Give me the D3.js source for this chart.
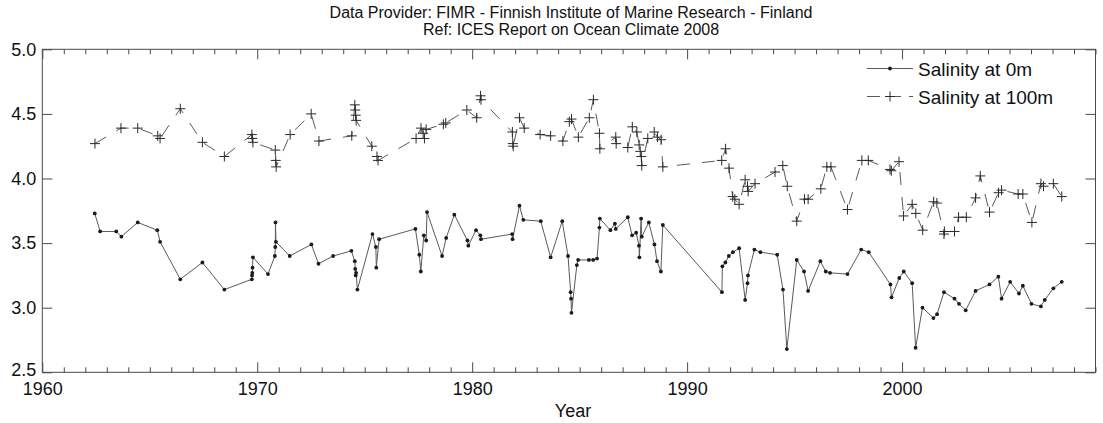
<!DOCTYPE html>
<html>
<head>
<meta charset="utf-8">
<script src="https://cdn.jsdelivr.net/npm/d3@7/dist/d3.min.js"></script>
<style>
  html, body { margin: 0; padding: 0; background: #fff; }
  svg text { font-family: "Liberation Sans", Arial, sans-serif; fill: #111; }
</style>
</head>
<body>
<svg id="chart" width="1103" height="423"></svg>
<script>
// Salinity time series, decimal year -> salinity
const years0m = [1962.44,1962.69,1963.44,1963.68,1964.44,1965.35,1965.48,1966.42,1967.45,1968.47,
  1969.75,1969.76,1969.77,1969.78,1969.80,1970.50,1970.82,1970.84,1970.85,1970.87,1971.51,1972.52,1972.85,
  1973.53,1974.38,1974.54,1974.56,1974.58,1974.60,1974.66,1975.36,1975.52,1975.54,1975.67,1977.36,1977.54,
  1977.61,1977.75,1977.86,1977.90,1978.60,1978.79,1979.17,1979.78,1979.82,1980.18,1980.38,1980.41,1981.86,
  1981.88,1982.20,1982.38,1983.19,1983.65,1984.19,1984.46,1984.58,1984.60,1984.62,1984.87,1984.93,1985.43,
  1985.63,1985.81,1985.92,1985.94,1986.43,1986.64,1986.68,1987.24,1987.44,1987.63,1987.76,1987.78,1987.86,
  1987.89,1988.22,1988.48,1988.60,1988.78,1988.87,1991.62,1991.64,1991.78,1991.94,1992.13,1992.42,1992.70,
  1992.81,1992.83,1993.13,1993.41,1994.19,1994.46,1994.64,1995.10,1995.44,1995.63,1996.20,1996.45,1996.65,
  1997.46,1998.10,1998.45,1999.46,1999.51,1999.87,2000.08,2000.47,2000.63,2000.95,2001.46,2001.63,2001.95,
  2002.44,2002.65,2002.96,2003.42,2004.07,2004.48,2004.63,2005.03,2005.44,2005.62,2006.02,2006.46,2006.64,
  2007.04,2007.43];
const salinity0m = [3.73,3.59,3.59,3.55,3.66,3.60,3.51,3.22,3.35,3.14,
  3.22,3.25,3.27,3.31,3.39,3.26,3.40,3.47,3.66,3.51,3.40,3.49,3.34,
  3.40,3.44,3.36,3.30,3.25,3.27,3.14,3.57,3.47,3.31,3.53,3.61,3.41,
  3.28,3.56,3.52,3.74,3.40,3.54,3.72,3.52,3.48,3.60,3.56,3.53,3.57,
  3.53,3.79,3.68,3.67,3.39,3.67,3.40,3.12,3.07,2.96,3.33,3.37,3.37,
  3.37,3.38,3.62,3.69,3.60,3.65,3.61,3.70,3.56,3.58,3.48,3.39,3.69,
  3.55,3.66,3.49,3.36,3.28,3.64,3.12,3.32,3.35,3.40,3.43,3.46,3.06,
  3.19,3.25,3.45,3.43,3.41,3.14,2.68,3.37,3.28,3.13,3.36,3.28,3.27,
  3.26,3.45,3.43,3.18,3.08,3.23,3.28,3.19,2.69,3.00,2.92,2.95,3.12,
  3.07,3.03,2.98,3.13,3.18,3.24,3.07,3.20,3.11,3.17,3.03,3.01,3.06,
  3.15,3.20];

const years100m = [1962.45,1963.66,1964.44,1965.37,1965.48,1966.42,1967.45,1968.47,1969.75,1969.77,
  1969.80,1970.84,1970.86,1970.88,1971.53,1972.51,1972.87,1974.40,1974.54,1974.56,1974.58,1974.60,1975.33,
  1975.57,1975.62,1977.39,1977.62,1977.72,1977.78,1977.86,1978.66,1978.77,1979.75,1980.21,1980.39,1980.41,
  1981.87,1981.89,1981.91,1982.20,1982.42,1983.16,1983.65,1984.22,1984.52,1984.62,1984.94,1985.45,1985.64,
  1985.92,1985.94,1986.68,1986.70,1987.24,1987.45,1987.66,1987.77,1987.82,1987.87,1987.89,1988.17,1988.47,
  1988.62,1988.79,1988.87,1991.61,1991.79,1991.95,1992.12,1992.22,1992.42,1992.70,1992.81,1992.84,1993.16,
  1994.09,1994.45,1994.66,1995.10,1995.46,1995.63,1996.22,1996.50,1996.69,1997.46,1998.13,1998.43,1999.44,
  1999.50,1999.86,2000.07,2000.47,2000.64,2000.96,2001.47,2001.62,2001.95,2001.97,2002.44,2002.63,2002.99,
  2003.42,2003.64,2004.07,2004.49,2004.63,2005.40,2005.62,2006.04,2006.46,2006.58,2007.04,2007.43];
const salinity100m = [4.27,4.39,4.39,4.33,4.31,4.54,4.28,4.17,4.34,4.31,
  4.28,4.22,4.14,4.09,4.34,4.50,4.29,4.33,4.57,4.53,4.49,4.45,4.25,
  4.17,4.14,4.31,4.39,4.35,4.31,4.38,4.42,4.43,4.53,4.47,4.64,4.61,
  4.36,4.27,4.25,4.47,4.39,4.34,4.33,4.29,4.44,4.46,4.32,4.47,4.61,
  4.35,4.23,4.32,4.27,4.24,4.40,4.36,4.26,4.21,4.17,4.10,4.31,4.36,
  4.32,4.30,4.09,4.14,4.23,4.08,3.86,3.84,3.80,3.99,3.94,3.90,3.96,
  4.05,4.10,3.94,3.67,3.84,3.84,3.92,4.09,4.09,3.76,4.14,4.14,4.07,
  4.06,4.13,3.71,3.80,3.73,3.60,3.82,3.81,3.57,3.59,3.59,3.70,3.70,
  3.85,4.02,3.74,3.89,3.91,3.88,3.88,3.66,3.96,3.94,3.96,3.86];

const yearTicks = [1960, 1970, 1980, 1990, 2000];
const salinityTicks = [2.5, 3.0, 3.5, 4.0, 4.5, 5.0];
const titleLines = ["Data Provider: FIMR - Finnish Institute of Marine Research - Finland",
                    "Ref: ICES Report on Ocean Climate 2008"];
const seriesNames = ["Salinity at 0m", "Salinity at 100m"];

const svg = d3.select("#chart");
const plotLeft = 42.3, plotRight = 1095.5, plotTop = 49.3, plotBottom = 372.3;

const x = d3.scaleLinear().domain([1960, 2009]).range([plotLeft, plotRight]);
const y = d3.scaleLinear().domain([2.5, 5.0]).range([plotBottom, plotTop]);

const lineColor = "#5a5a5a";
const markColor = "#1a1a1a";
const axisColor = "#4a4a4a";

// Titles
svg.selectAll("text.title").data(titleLines).join("text")
  .attr("class", "title")
  .attr("x", 571).attr("y", (d, i) => 18 + i * 17)
  .attr("text-anchor", "middle")
  .style("font-size", "16px")
  .text(d => d);

const minorYears = d3.range(1960, 2010).filter(v => v % 10 !== 0);

function styleAxis(g) {
  g.select(".domain").remove();
  g.selectAll("line").attr("stroke", axisColor);
}

// bottom axis: decade labels + inward ticks
svg.append("g").attr("transform", `translate(0,${plotBottom})`)
  .call(d3.axisBottom(x).tickValues(yearTicks).tickSize(-10).tickPadding(10).tickFormat(d3.format("d")))
  .call(styleAxis)
  .call(g => g.selectAll("text").style("font-size", "18px").attr("fill", "#111"));
svg.append("g").attr("transform", `translate(0,${plotBottom})`)
  .call(d3.axisBottom(x).tickValues(minorYears).tickSize(-5).tickFormat(""))
  .call(styleAxis);
// top axis ticks
svg.append("g").attr("transform", `translate(0,${plotTop})`)
  .call(d3.axisTop(x).tickValues(yearTicks).tickSize(-10).tickFormat(""))
  .call(styleAxis);
svg.append("g").attr("transform", `translate(0,${plotTop})`)
  .call(d3.axisTop(x).tickValues(minorYears).tickSize(-5).tickFormat(""))
  .call(styleAxis);
// left axis
svg.append("g").attr("transform", `translate(${plotLeft},0)`)
  .call(d3.axisLeft(y).tickValues(salinityTicks).tickSize(-10).tickPadding(6).tickFormat(d3.format(".1f")))
  .call(styleAxis)
  .call(g => g.selectAll("text").style("font-size", "18px").attr("fill", "#111"))
  .call(g => g.selectAll(".tick").filter(d => d === 2.5).select("text").attr("dy", "0.2em"));
// right axis ticks
svg.append("g").attr("transform", `translate(${plotRight},0)`)
  .call(d3.axisRight(y).tickValues(salinityTicks).tickSize(-10).tickFormat(""))
  .call(styleAxis);

// frame
svg.append("rect")
  .attr("x", plotLeft).attr("y", plotTop)
  .attr("width", plotRight - plotLeft).attr("height", plotBottom - plotTop)
  .attr("fill", "none").attr("stroke", axisColor).attr("stroke-width", 1);

// axis title
svg.append("text").attr("x", 573).attr("y", 417)
  .attr("text-anchor", "middle").style("font-size", "18px").text("Year");

const line = d3.line().x(d => x(d[0])).y(d => y(d[1]));
const data0 = years0m.map((t, i) => [t, salinity0m[i]]);
const data100 = years100m.map((t, i) => [t, salinity100m[i]]);

// 100 m series: dashed line with plus markers
svg.append("path").datum(data100)
  .attr("d", line).attr("fill", "none")
  .attr("stroke", lineColor).attr("stroke-width", 1)
  .attr("stroke-dasharray", "13,12");
const plus = "M-5,0H5M0,-5V5";
svg.append("g").selectAll("path").data(data100).join("path")
  .attr("transform", d => `translate(${x(d[0])},${y(d[1])})`)
  .attr("d", plus).attr("stroke", "#2a2a2a").attr("stroke-width", 1).attr("fill", "none");

// 0 m series: solid line with dot markers
svg.append("path").datum(data0)
  .attr("d", line).attr("fill", "none")
  .attr("stroke", lineColor).attr("stroke-width", 1);
svg.append("g").selectAll("circle").data(data0).join("circle")
  .attr("cx", d => x(d[0])).attr("cy", d => y(d[1]))
  .attr("r", 1.9).attr("fill", markColor);

// legend
const legend = svg.append("g");
const rows = [68.5, 96.5];
legend.append("line").attr("x1", 867).attr("x2", 913).attr("y1", rows[0]).attr("y2", rows[0])
  .attr("stroke", lineColor);
legend.append("circle").attr("cx", 890).attr("cy", rows[0]).attr("r", 1.9).attr("fill", markColor);
legend.append("line").attr("x1", 867).attr("x2", 913).attr("y1", rows[1]).attr("y2", rows[1])
  .attr("stroke", lineColor).attr("stroke-dasharray", "13,8");
legend.append("path").attr("transform", `translate(890,${rows[1]})`).attr("d", plus)
  .attr("stroke", "#2a2a2a").attr("fill", "none");
legend.selectAll("text").data(seriesNames).join("text")
  .attr("x", 918).attr("y", (d, i) => rows[i] + 7)
  .style("font-size", "19px").text(d => d);
</script>
</body>
</html>
